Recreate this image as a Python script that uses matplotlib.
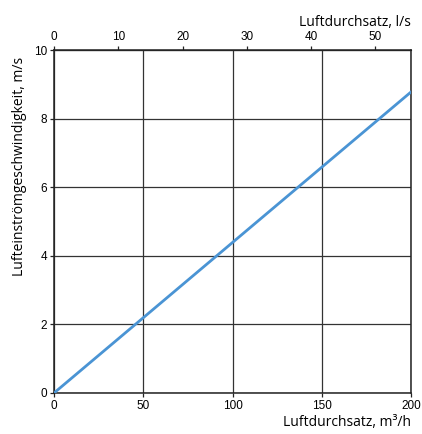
import matplotlib.pyplot as plt

plt.rcParams['font.family'] = ['Open Sans', 'DejaVu Sans']

# Luftdurchsatz in m3/h and Einströmgeschwindigkeit in m/s
flow_m3h = [0, 200]
velocity = [0, 8.78]

x_ticks = [0, 50, 100, 150, 200]
y_ticks = [0, 2, 4, 6, 8, 10]
top_ticks = [0, 10, 20, 30, 40, 50]

fig = plt.figure(figsize=(4.22, 4.34), dpi=100)
ax = fig.add_axes([0.128, 0.0945, 0.846, 0.790])

ax.plot(flow_m3h, velocity, color="#4a94d4", linewidth=2, zorder=3)

ax.set_xlim(0, 200)
ax.set_ylim(0, 10)
ax.set_xticks(x_ticks)
ax.set_yticks(y_ticks)
ax.grid(True, color="#333333", linewidth=0.9)
ax.tick_params(labelsize=8.5, length=3, width=0.9, color="#222222", pad=2)
for lbl in ax.get_xticklabels() + ax.get_yticklabels():
    lbl.set_family("Liberation Sans")
for s in ax.spines.values():
    s.set_color("#222222")
    s.set_linewidth(1.1)

ax.set_xlabel("Luftdurchsatz, m³/h", fontsize=10, loc="right", labelpad=2)
ax.set_ylabel("Lufteinströmgeschwindigkeit, m/s", fontsize=10, loc="top")
ax.yaxis.set_label_coords(-0.075, 0.98)

# second axis on top, l/s
top = ax.secondary_xaxis("top", functions=(lambda v: v / 3.6, lambda v: v * 3.6))
top.set_xticks(top_ticks)
top.tick_params(labelsize=8.5, length=3, width=0.9, color="#222222", pad=2)
for lbl in top.get_xticklabels():
    lbl.set_family("Liberation Sans")
top.set_xlabel("Luftdurchsatz, l/s", fontsize=10, loc="right", labelpad=4)

fig.savefig("out.png", dpi=100)
